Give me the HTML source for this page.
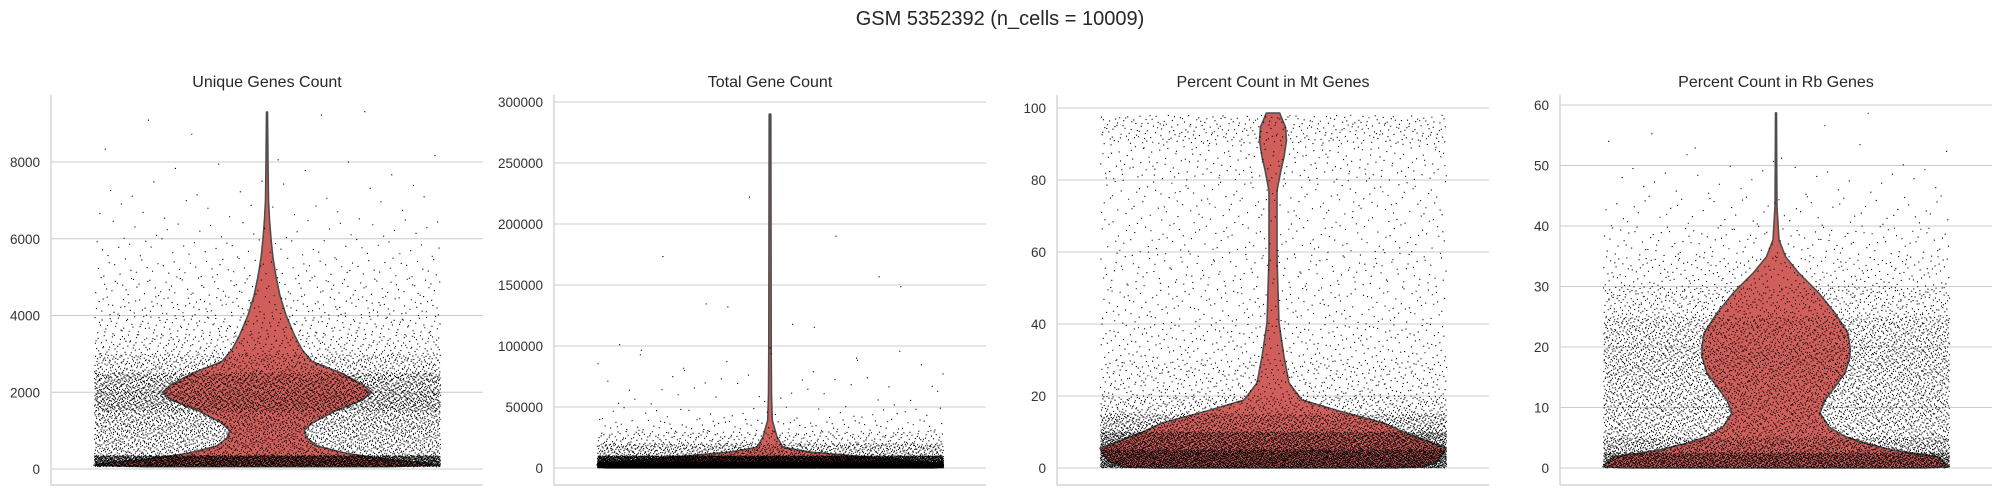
<!DOCTYPE html>
<html><head><meta charset="utf-8">
<style>
html,body{margin:0;padding:0;background:#fff;}
svg{display:block;font-family:"Liberation Sans",Arial,sans-serif;}
</style></head>
<body>
<svg id="fig" width="2009" height="495" viewBox="0 0 2009 495">
<text x="1000" y="25" text-anchor="middle" font-size="20" fill="#262626">GSM 5352392 (n_cells = 10009)</text>
</svg>
<script>
// ---- Panel 1: Unique Genes Count ----
const p1Ticks = [0,2000,4000,6000,8000];
const p1ViolinVals = [60,100,150,250,400,600,800,1000,1200,1500,1800,2000,2200,2500,2800,3100,3500,4000,4500,5000,5500,6000,6500,7000,8000,9300];
const p1ViolinDens = [120,172,160,120,80,50,40,37,45,67,95,104,95,74,45,35,27,19,13,9,6,4,2.5,1.5,1,0.5];
const p1BinEdges = [60,350,600,1000,1500,2000,2500,3000,3500,4000,4500,5000,5500,6000,6500,7000,7500,8000,8500,9000,9400];
const p1BinCounts = [3000,500,800,1100,1700,1500,700,300,200,140,100,70,40,25,15,10,6,3,1,3];
// ---- Panel 2: Total Gene Count ----
const p2Ticks = [0,50000,100000,150000,200000,250000,300000];
const p2ViolinVals = [0,2500,5000,9000,13000,17000,25500,39000,60000,100000,200000,290000];
const p2ViolinDens = [165,173,150,97,40,13,7,2.3,1.5,1.2,1,0.8];
const p2BinEdges = [0,5000,10000,20000,30000,40000,50000,75000,100000,150000,200000,290000];
const p2BinCounts = [6500,2300,800,250,80,30,30,15,6,3,1];
// ---- Panel 3: Percent Count in Mt Genes ----
const p3Ticks = [0,20,40,60,80,100];
const p3ViolinVals = [0,0.3,2,5.5,9.7,12.5,16,18.9,23.6,30.9,40.3,49.4,58.6,68,77,82.8,86.4,91,94.7,97,98.6];
const p3ViolinDens = [120,150,165,173,133,111,64,29,16,11,6,5,4,4,4,8,11,13.5,12.5,9,6.7];
const p3BinEdges = [0,5,10,15,20,30,40,50,60,70,80,90,98];
const p3BinCounts = [4000,2600,1200,500,450,250,180,160,130,130,200,350];
// ---- Panel 4: Percent Count in Rb Genes ----
const p4Ticks = [0,10,20,30,40,50,60];
const p4ViolinVals = [0,0.2,1.8,3,4.1,5.2,6.8,9.1,11.2,13.4,15.7,18.4,20,22.3,25.6,28.9,32.2,34.9,37.7,43.1,50,58.7];
const p4ViolinDens = [150,173,163,116,89,69,53,44,49,59,69,74,74,72,59,43,23,9.6,3,1,0.7,0.5];
const p4BinEdges = [0,2.5,5,10,15,20,25,30,35,40,45,50,55,59];
const p4BinCounts = [2500,1200,1300,1300,1400,1200,600,250,130,60,25,8,3];

const NS = "http://www.w3.org/2000/svg";
const svg = document.getElementById('fig');
function mk(tag, attrs, parent){
  const e = document.createElementNS(NS, tag);
  for (const k in attrs) e.setAttribute(k, attrs[k]);
  (parent||svg).appendChild(e);
  return e;
}
function halton(i, b){ let f=1, r=0; while(i>0){ f/=b; r+=f*(i%b); i=Math.floor(i/b);} return r; }

const panels = [
  {name:'unique-genes', title:'Unique Genes Count', left:51, zeroY:469, pxPerUnit:76.75/2000, ticks:p1Ticks, vv:p1ViolinVals, vd:p1ViolinDens, be:p1BinEdges, bc:p1BinCounts},
  {name:'total-gene', title:'Total Gene Count', left:554, zeroY:468, pxPerUnit:61/50000, ticks:p2Ticks, vv:p2ViolinVals, vd:p2ViolinDens, be:p2BinEdges, bc:p2BinCounts},
  {name:'percent-mt', title:'Percent Count in Mt Genes', left:1057, zeroY:468, pxPerUnit:3.6, ticks:p3Ticks, vv:p3ViolinVals, vd:p3ViolinDens, be:p3BinEdges, bc:p3BinCounts},
  {name:'percent-rb', title:'Percent Count in Rb Genes', left:1560, zeroY:468, pxPerUnit:6.05, ticks:p4Ticks, vv:p4ViolinVals, vd:p4ViolinDens, be:p4BinEdges, bc:p4BinCounts}
];
const W = 432, TOP = 95, BOTTOM = 485, HALF = 173;

panels.forEach((p, pi) => {
  const g = mk('g', {});
  
  
  const y = v => p.zeroY - v * p.pxPerUnit;
  const cx = p.left + W/2;
  p.ticks.forEach(t => {
    const gl = mk('line', {x1:p.left, x2:p.left+W, y1:y(t), y2:y(t), stroke:'#cccccc', 'stroke-width':1}, g);
    
    
    const tl = mk('text', {x:p.left-11, y:y(t)+5, 'text-anchor':'end', 'font-size':13.5, fill:'#333'}, g);
    tl.textContent = String(t);
    
    
  });
  const ls = mk('line', {x1:p.left, x2:p.left, y1:TOP, y2:BOTTOM, stroke:'#cccccc', 'stroke-width':1.2}, g);
  
  
  const bs = mk('line', {x1:p.left, x2:p.left+W, y1:BOTTOM, y2:BOTTOM, stroke:'#cccccc', 'stroke-width':1.2}, g);
  
  
  const tt = mk('text', {x:cx, y:87, 'text-anchor':'middle', 'font-size':16, fill:'#262626'}, g);
  tt.textContent = p.title;
  
  
  const mx = Math.max(...p.vd);
  let right = [], left = [];
  p.vv.forEach((v, i) => {
    const hw = p.vd[i] / mx * HALF;
    right.push((cx+hw).toFixed(1)+','+y(v).toFixed(1));
    left.unshift((cx-hw).toFixed(1)+','+y(v).toFixed(1));
  });
  const vp = mk('path', {d:'M'+right.join('L')+'L'+left.join('L')+'Z', fill:'#d05f5b', stroke:'#4d4d4d', 'stroke-width':1.6, 'stroke-linejoin':'round'}, g);
  
  
  let d = '', idx = 1 + pi*7919;
  p.bc.forEach((c, bi) => {
    const v0 = p.be[bi], v1 = p.be[bi+1];
    for (let k = 0; k < c; k++, idx++) {
      const px = cx - HALF + halton(idx, 2) * 2 * HALF;
      const pv = v0 + halton(idx, 3) * (v1 - v0);
      d += 'M' + px.toFixed(1) + ' ' + (y(pv)-0.55).toFixed(1) + 'h1.1v1.1h-1.1z';
    }
  });
  const dots = mk('path', {d:d, fill:'#000'}, g);
  
  
});
</script>
</body></html>
